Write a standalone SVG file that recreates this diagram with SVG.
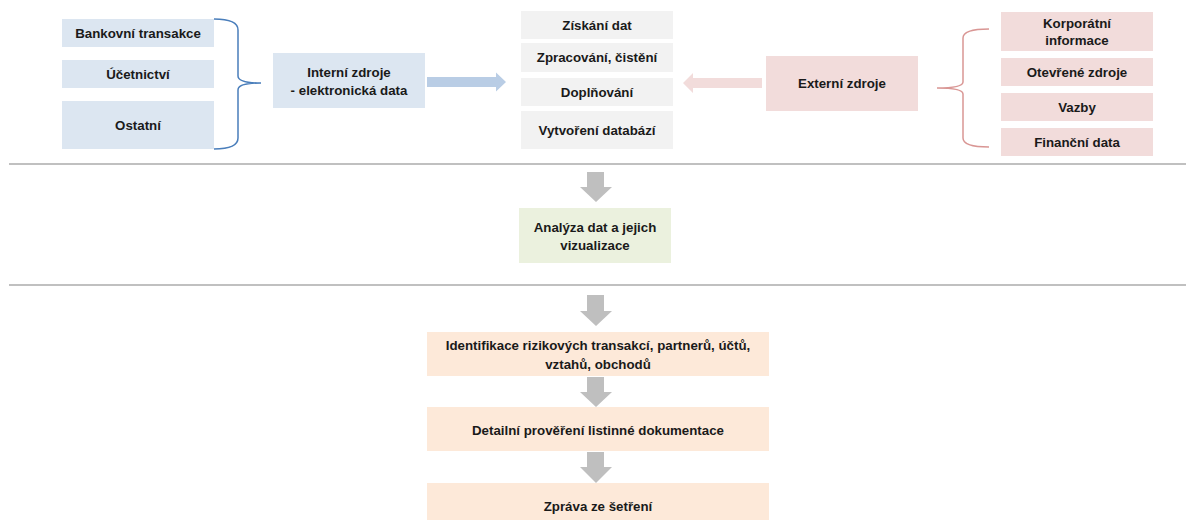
<svg xmlns="http://www.w3.org/2000/svg" width="1186" height="520" viewBox="0 0 1186 520">
<style>
text{font-family:"Liberation Sans",Arial,sans-serif;font-weight:bold;font-size:13.3px;fill:#1a1a1a;text-anchor:middle;dominant-baseline:central}
.blue{fill:#dce6f1}.gray{fill:#f2f2f2}.pink{fill:#f2dcdb}.green{fill:#ebf1de}.peach{fill:#fde9d9}
.sep{stroke:#c0c0c0;stroke-width:2;fill:none}
.garrow{fill:#bfbfbf}
</style>
<rect width="1186" height="520" fill="#ffffff"/>
<g id="separators">
<line class="sep" x1="9" y1="164" x2="1186" y2="164"/>
<line class="sep" x1="9" y1="285" x2="1186" y2="285"/>
</g>
<g id="connectors">
<path d="M214,19 Q238,19 238,30 L238,76 Q238,83 261,83 Q238,83 238,90 L238,138 Q238,149 214,149" fill="none" stroke="#4a7ebb" stroke-width="1.5"/>
<path d="M989,29 Q963,29 963,38 L963,82 Q963,88 937,88 Q963,88 963,94 L963,138 Q963,147 989,147" fill="none" stroke="#d99694" stroke-width="1.5"/>
<polygon points="427,77 496,77 496,72.5 506,82 496,91.5 496,87 427,87" fill="#b9cde5"/>
<polygon points="762,78 693,78 693,73 683,83 693,93 693,88 762,88" fill="#f2dcdb"/>
<polygon class="garrow" points="587,172 604,172 604,187 612,187 596,202 580,187 587,187"/>
<polygon class="garrow" points="587,295 604,295 604,311 612,311 596,326 580,311 587,311"/>
<polygon class="garrow" points="587,377 604,377 604,392 612,392 596,407 580,392 587,392"/>
<polygon class="garrow" points="587,452 604,452 604,467 612,467 596,483 580,467 587,467"/>
</g>
<g id="bankovni"><rect class="blue" x="62" y="19" width="152" height="28"/><text x="138" y="33">Bankovní transakce</text></g>
<g id="ucetnictvi"><rect class="blue" x="62" y="60" width="152" height="28"/><text x="138" y="74">Účetnictví</text></g>
<g id="ostatni"><rect class="blue" x="62" y="101" width="152" height="48"/><text x="138" y="125">Ostatní</text></g>
<g id="interni"><rect class="blue" x="273" y="53" width="152" height="55"/><text x="349" y="72">Interní zdroje</text><text x="349" y="90">- elektronická data</text></g>
<g id="ziskani"><rect class="gray" x="521" y="11" width="152" height="28"/><text x="597" y="25">Získání dat</text></g>
<g id="zpracovani"><rect class="gray" x="521" y="43" width="152" height="29"/><text x="597" y="57.5">Zpracování, čistění</text></g>
<g id="doplnovani"><rect class="gray" x="521" y="78" width="152" height="28"/><text x="597" y="92">Doplňování</text></g>
<g id="vytvoreni"><rect class="gray" x="521" y="111" width="152" height="38"/><text x="597" y="130">Vytvoření databází</text></g>
<g id="externi"><rect class="pink" x="766" y="56" width="152" height="55"/><text x="842" y="83.5">Externí zdroje</text></g>
<g id="korporatni"><rect class="pink" x="1001" y="12" width="152" height="39"/><text x="1077" y="23">Korporátní</text><text x="1077" y="40">informace</text></g>
<g id="otevrene"><rect class="pink" x="1001" y="58" width="152" height="28"/><text x="1077" y="72">Otevřené zdroje</text></g>
<g id="vazby"><rect class="pink" x="1001" y="93" width="152" height="28"/><text x="1077" y="107">Vazby</text></g>
<g id="financni"><rect class="pink" x="1001" y="128" width="152" height="28"/><text x="1077" y="142">Finanční data</text></g>
<g id="analyza"><rect class="green" x="519" y="208" width="152" height="55"/><text x="595" y="227">Analýza dat a jejich</text><text x="595" y="245">vizualizace</text></g>
<g id="identifikace"><rect class="peach" x="427" y="332" width="342" height="44"/><text x="598" y="345">Identifikace rizikových transakcí, partnerů, účtů,</text><text x="598" y="364">vztahů, obchodů</text></g>
<g id="detailni"><rect class="peach" x="427" y="407" width="342" height="44"/><text x="598" y="430">Detailní prověření listinné dokumentace</text></g>
<g id="zprava"><rect class="peach" x="427" y="483" width="342" height="37"/><text x="598" y="506">Zpráva ze šetření</text></g>
</svg>
